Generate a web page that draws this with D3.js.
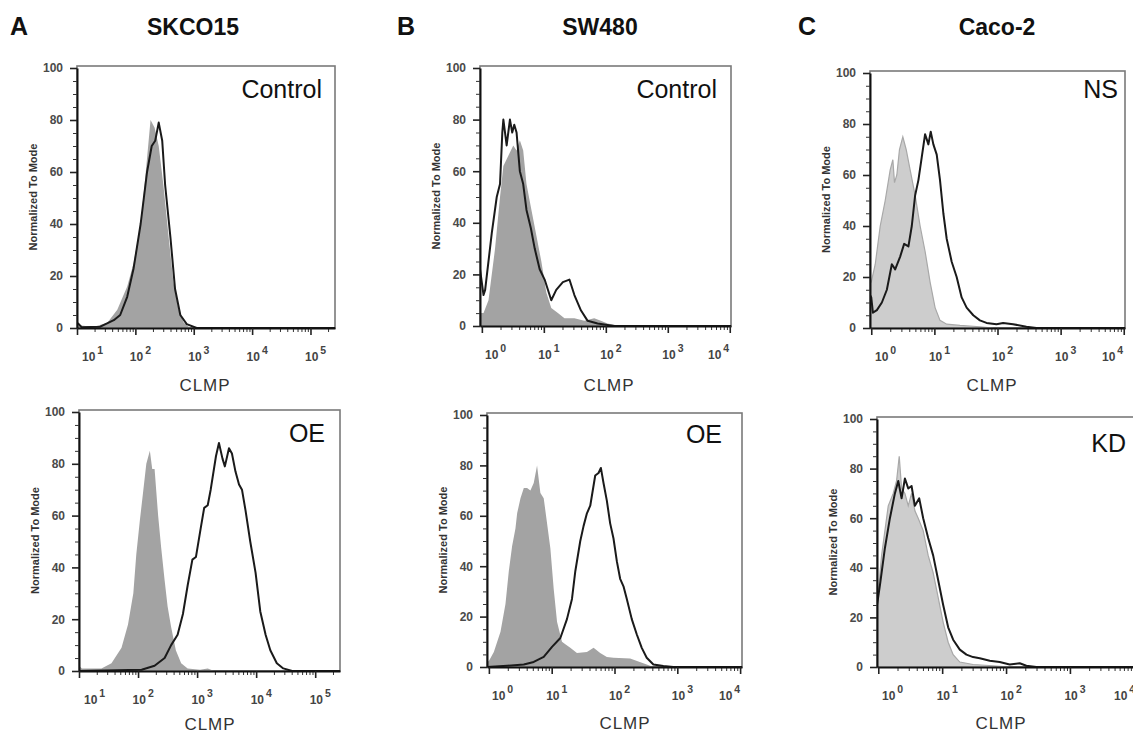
<!DOCTYPE html>
<html>
<head>
<meta charset="utf-8">
<script src="https://cdn.jsdelivr.net/npm/d3@7"></script>
<style>
  body { margin: 0; background: #fff; }
  svg text { font-family: Arial, "Liberation Sans", sans-serif; }
</style>
</head>
<body>
<svg id="chart" width="1133" height="737"></svg>
<script>

// column headers and panel tags
const letters = ["A", "B", "C"]
const cellLines = ["SKCO15", "SW480", "Caco-2"]
const conditions = [["Control", "OE"], ["Control", "OE"], ["NS", "KD"]]

const yTicks = [0, 20, 40, 60, 80, 100]
const yMinorTicks = [5, 10, 15, 25, 30, 35, 45, 50, 55, 65, 70, 75, 85, 90, 95]
const xTicksA = [1, 2, 3, 4, 5]
const xTicksBC = [0, 1, 2, 3, 4]
const xLabel = "CLMP"
const yLabel = "Normalized To Mode"

// histograms: [log10 intensity, % of mode]
const skcoControlIso = [[1.0,1.5],[1.06,1],[1.29,0.5],[1.52,2],[1.69,7],[1.86,16],[1.97,25],[2.09,40],[2.17,58],[2.26,80],[2.33,77],[2.40,70],[2.48,55],[2.57,35],[2.65,18],[2.74,7],[2.83,2],[2.94,0]]
const skcoControlClmp = [[1.0,2],[1.03,1.5],[1.08,0.3],[1.40,0.5],[1.63,3],[1.74,5],[1.86,12],[1.97,23],[2.09,40],[2.20,60],[2.28,70],[2.34,72],[2.40,79],[2.46,72],[2.51,55],[2.60,35],[2.68,15],[2.77,5],[2.88,1.5],[3.05,0],[5.42,0]]

const skcoOeIso = [[1.0,2],[1.05,1],[1.38,1],[1.55,3],[1.72,9],[1.83,18],[1.92,30],[1.97,45],[2.03,58],[2.08,68],[2.14,80],[2.20,85],[2.24,78],[2.28,78],[2.34,60],[2.39,48],[2.45,35],[2.50,25],[2.56,17],[2.64,8],[2.73,3],[2.84,1],[3.05,0.5],[3.18,1],[3.29,0]]
const skcoOeClmp = [[1.0,0],[2.06,0.5],[2.28,2],[2.45,5],[2.56,10],[2.67,14],[2.76,22],[2.84,33],[2.92,43],[2.98,44],[3.06,55],[3.12,63],[3.18,64],[3.23,70],[3.32,83],[3.37,88],[3.43,82],[3.47,79],[3.54,86],[3.59,84],[3.65,77],[3.71,72],[3.76,70],[3.82,62],[3.90,50],[3.99,38],[4.07,23],[4.16,14],[4.24,8],[4.35,3],[4.46,1],[4.61,0],[5.42,0]]

const swControlIso = [[-0.03,5],[0.027,5],[0.107,10],[0.213,30],[0.293,50],[0.347,62],[0.427,66],[0.507,70],[0.56,68],[0.613,72],[0.667,68],[0.72,55],[0.8,45],[0.88,35],[0.96,25],[1.04,13],[1.12,7],[1.227,5],[1.333,3],[1.493,3],[1.653,2],[1.813,3],[1.92,2],[2.027,1],[2.24,0]]
const swControlClmp = [[-0.03,22],[0.027,12],[0.053,14],[0.16,36],[0.24,50],[0.293,55],[0.33,75],[0.347,80],[0.4,70],[0.453,80],[0.49,75],[0.523,78],[0.56,75],[0.613,60],[0.667,55],[0.72,45],[0.79,38],[0.853,30],[0.933,22],[1.013,18],[1.12,10],[1.2,14],[1.307,17],[1.413,18],[1.493,12],[1.6,6],[1.707,2],[1.867,1],[2.133,0],[4.02,0]]

const swOeIso = [[-0.03,2],[0,2.4],[0.079,6],[0.185,14],[0.264,25],[0.317,38],[0.37,48],[0.423,55],[0.45,61],[0.503,67],[0.556,71],[0.608,71],[0.661,70],[0.714,73],[0.767,80],[0.82,69],[0.873,67],[0.926,57],[0.979,47],[1.032,31],[1.085,18],[1.164,10],[1.217,9],[1.296,7.6],[1.402,5.6],[1.561,6],[1.667,7.6],[1.772,5.6],[1.878,4],[1.984,3.7],[2.249,3.4],[2.513,1],[2.619,0]]
const swOeClmp = [[-0.03,0],[0.291,0.5],[0.556,1],[0.714,2],[0.873,4],[1.005,8],[1.138,11.5],[1.243,19],[1.323,27],[1.376,38],[1.455,50],[1.508,56],[1.561,61],[1.614,64],[1.693,76],[1.746,77],[1.783,79],[1.825,73],[1.878,66],[1.931,57],[1.984,51],[2.037,42],[2.09,35],[2.143,32],[2.196,27],[2.275,19],[2.354,13],[2.434,7.6],[2.513,3.7],[2.619,1],[2.778,0.4],[2.937,0],[4.03,0]]

const cacoNsIso = [[-0.02,18],[0,18],[0.063,25],[0.142,40],[0.221,50],[0.3,62],[0.342,66],[0.368,57],[0.405,60],[0.447,70],[0.5,75],[0.553,70],[0.616,62],[0.695,52],[0.774,40],[0.853,30],[0.932,18],[1.011,8],[1.089,3],[1.195,1.5],[1.405,1],[1.721,0.5],[1.932,0]]
const cacoNsClmp = [[-0.02,13],[0,12],[0.026,6],[0.089,7],[0.168,10],[0.247,15],[0.326,25],[0.379,23],[0.458,28],[0.521,33],[0.589,32],[0.642,40],[0.695,52],[0.747,58],[0.8,67],[0.853,76],[0.905,72],[0.942,77],[0.984,72],[1.037,68],[1.089,58],[1.142,45],[1.195,35],[1.274,26],[1.353,20],[1.432,12],[1.511,8],[1.616,5],[1.721,3],[1.826,2],[1.984,1.5],[2.089,2],[2.247,1.5],[2.458,0.5],[2.616,0],[4.02,0]]

const cacoKdIso = [[-0.02,30],[0,30],[0.052,45],[0.104,55],[0.156,65],[0.234,70],[0.286,75],[0.328,85],[0.365,72],[0.417,70],[0.469,65],[0.521,70],[0.573,63],[0.625,60],[0.703,55],[0.781,45],[0.859,38],[0.938,28],[1.016,18],[1.094,10],[1.172,5],[1.276,2],[1.484,1],[1.797,0.5],[2.057,0]]
const cacoKdClmp = [[-0.02,25],[0.026,33],[0.104,48],[0.182,60],[0.26,70],[0.313,75],[0.365,68],[0.417,76],[0.469,72],[0.521,73],[0.573,65],[0.641,68],[0.703,60],[0.781,52],[0.859,45],[0.938,35],[1.016,25],[1.094,16],[1.172,11],[1.276,7],[1.38,5],[1.484,4],[1.589,3.5],[1.745,2.5],[1.901,2],[2.057,1],[2.214,1.5],[2.318,0.5],[2.474,0],[4.05,0]]

// panel boxes
var panels = [
	{ col: 0, row: 0, fill: skcoControlIso, line: skcoControlClmp, left: 77, right: 335, top: 66, bottom: 328, dom: [1.0, 5.42], ticks: xTicksA, tag: [322, 98], xl: [205, 391] },
	{ col: 0, row: 1, fill: skcoOeIso, line: skcoOeClmp, left: 79, right: 340, top: 410, bottom: 671, dom: [1.0, 5.42], ticks: xTicksA, tag: [325, 442], xl: [210, 730] },
	{ col: 1, row: 0, fill: swControlIso, line: swControlClmp, left: 480, right: 731, top: 66, bottom: 326, dom: [-0.03, 4.02], ticks: xTicksBC, tag: [717, 98], xl: [609, 391] },
	{ col: 1, row: 1, fill: swOeIso, line: swOeClmp, left: 487, right: 742, top: 413, bottom: 667, dom: [-0.03, 4.03], ticks: xTicksBC, tag: [722, 443], xl: [625, 729] },
	{ col: 2, row: 0, fill: cacoNsIso, line: cacoNsClmp, left: 870, right: 1125, top: 71, bottom: 328, dom: [-0.02, 4.02], ticks: xTicksBC, tag: [1118, 98], xl: [992, 391], light: true },
	{ col: 2, row: 1, fill: cacoKdIso, line: cacoKdClmp, left: 877, right: 1137, top: 417, bottom: 667, dom: [-0.02, 4.05], ticks: xTicksBC, tag: [1126, 452], xl: [1001, 729], light: true }
]

var svg = d3.select("#chart")

var letterX = [10, 397, 798]
var titleX = [193, 600, 997]

letters.forEach(function(l, i) {
	svg.append("text").attr("x", letterX[i]).attr("y", 35)
		.style("font-size", "25px").style("font-weight", "bold").attr("fill", "#111").text(l)
	svg.append("text").attr("x", titleX[i]).attr("y", 35).attr("text-anchor", "middle")
		.style("font-size", "23px").style("font-weight", "bold").attr("fill", "#111").text(cellLines[i])
})

panels.forEach(function(p, i) {

	var x = d3.scaleLinear().domain(p.dom).range([p.left, p.right])
	var y = d3.scaleLinear().domain([0, 100]).range([p.bottom, p.top + 2])

	var g = svg.append("g")

	var clipId = "clip" + i
	g.append("clipPath").attr("id", clipId).append("rect")
		.attr("x", p.left).attr("y", p.top).attr("width", p.right - p.left).attr("height", p.bottom - p.top)

	// grey frame (top / right)
	g.append("rect")
		.attr("x", p.left).attr("y", p.top).attr("width", p.right - p.left).attr("height", p.bottom - p.top)
		.attr("fill", "none").attr("stroke", "#7a7a7a").attr("stroke-width", 1.6)

	var area = d3.area().x(d => x(d[0])).y0(y(0)).y1(d => y(d[1]))
	var line = d3.line().x(d => x(d[0])).y(d => y(d[1]))

	g.append("path").datum(p.fill)
		.attr("clip-path", "url(#" + clipId + ")")
		.attr("d", area)
		.attr("fill", p.light ? "#cdcdcd" : "#a3a3a3")
		.attr("stroke", p.light ? "#a8a8a8" : "none")
		.attr("stroke-width", 1.2)

	g.append("path").datum(p.line)
		.attr("clip-path", "url(#" + clipId + ")")
		.attr("d", line)
		.attr("fill", "none").attr("stroke", "#1a1a1a").attr("stroke-width", 2)
		.attr("stroke-linejoin", "round")

	// y axis
	var yAxis = g.append("g").attr("transform", "translate(" + p.left + ",0)")
		.call(d3.axisLeft(y).tickValues(yTicks).tickSize(7).tickSizeOuter(0).tickPadding(7))
	yAxis.select(".domain").attr("stroke", "#111").attr("stroke-width", 2)
	yAxis.selectAll(".tick line").attr("stroke", "#222").attr("stroke-width", 1.6)
	yAxis.selectAll(".tick text").style("font-size", "12px").style("font-weight", "bold").attr("fill", "#4a4a4a")
		.attr("font-family", null)

	g.append("g").attr("transform", "translate(" + p.left + ",0)")
		.call(d3.axisLeft(y).tickValues(yMinorTicks).tickSize(4).tickFormat(""))
		.call(s => s.select(".domain").remove())
		.selectAll(".tick line").attr("stroke", "#333")

	// x axis, log decades
	var minor = []
	for (var k = Math.floor(p.dom[0]); k <= Math.ceil(p.dom[1]); k++) {
		for (var m = 2; m <= 9; m++) {
			var v = k + Math.log10(m)
			if (v > p.dom[0] && v < p.dom[1]) minor.push(v)
		}
	}

	g.append("g").attr("transform", "translate(0," + p.bottom + ")")
		.call(d3.axisBottom(x).tickValues(minor).tickSize(4).tickFormat(""))
		.call(s => s.select(".domain").remove())
		.selectAll(".tick line").attr("stroke", "#333")

	var xAxis = g.append("g").attr("transform", "translate(0," + p.bottom + ")")
		.call(d3.axisBottom(x).tickValues(p.ticks).tickSize(7).tickSizeOuter(0).tickFormat(""))
	xAxis.select(".domain").attr("stroke", "#111").attr("stroke-width", 2)
	xAxis.selectAll(".tick line").attr("stroke", "#222").attr("stroke-width", 1.6)

	// "10" with a raised exponent; edge labels are pushed inside the frame
	p.ticks.forEach(function(t) {
		var tx = x(t) - 5.5
		tx = Math.max(tx, p.left + 5)
		tx = Math.min(tx, p.right - 23)
		var lab = g.append("text").attr("x", tx).attr("y", p.bottom + 33)
			.style("font-size", "12px").style("font-weight", "bold").attr("fill", "#444")
		lab.append("tspan").text("10")
		lab.append("tspan").attr("dy", -7).attr("dx", 2).style("font-size", "10.5px").text(t)
	})

	// labels
	g.append("text")
		.attr("transform", "translate(" + (p.left - 44) + "," + ((p.top + p.bottom) / 2) + ") rotate(-90)")
		.attr("text-anchor", "middle").attr("dy", "0.35em")
		.style("font-size", "11px").style("font-weight", "bold").attr("fill", "#333")
		.text(yLabel)

	g.append("text").attr("x", p.xl[0]).attr("y", p.xl[1]).attr("text-anchor", "middle")
		.style("font-size", "17px").style("letter-spacing", "1px").attr("fill", "#333")
		.text(xLabel)

	g.append("text").attr("x", p.tag[0]).attr("y", p.tag[1]).attr("text-anchor", "end")
		.style("font-size", "25px").attr("fill", "#111")
		.text(conditions[p.col][p.row])

})

</script>
</body>
</html>
